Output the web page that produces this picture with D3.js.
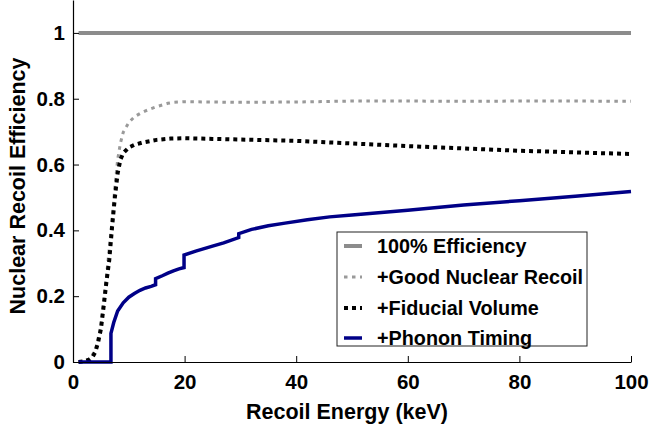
<!DOCTYPE html>
<html>
<head>
<meta charset="utf-8">
<script src="https://cdn.jsdelivr.net/npm/d3@7"></script>
<style>
  body { margin: 0; background: #fff; }
  text { font-family: "Liberation Sans", Arial, sans-serif; font-weight: bold; fill: #000; }
</style>
</head>
<body>
<div id="chart"></div>
<script>
// Dados
const xTicks = [0, 20, 40, 60, 80, 100];
const yTicks = [0, 0.2, 0.4, 0.6, 0.8, 1];

const fullE = [1, 100];
const fullV = [1, 1];

const gnrE = [1, 2, 3, 4, 5, 6, 7, 7.5, 8, 8.5, 9, 10, 11, 12, 13, 14, 15, 16, 17, 18, 20, 25, 30, 40, 50, 60, 70, 80, 90, 100];
const gnrV = [0, 0.003, 0.01, 0.035, 0.11, 0.26, 0.43, 0.53, 0.615, 0.665, 0.698, 0.728, 0.745, 0.755, 0.763, 0.77, 0.776, 0.781, 0.786, 0.789, 0.791, 0.79, 0.789, 0.79, 0.793, 0.793, 0.792, 0.793, 0.793, 0.792];

const fidE = [1, 2, 3, 3.5, 4, 4.5, 5, 5.5, 6, 6.5, 7, 7.5, 8, 8.5, 9, 10, 11, 12.5, 15, 17.5, 20, 25, 30, 40, 50, 60, 70, 80, 90, 100];
const fidV = [0, 0.002, 0.008, 0.015, 0.03, 0.06, 0.1, 0.17, 0.245, 0.31, 0.41, 0.5, 0.573, 0.615, 0.635, 0.652, 0.66, 0.667, 0.675, 0.679, 0.68, 0.678, 0.676, 0.672, 0.664, 0.656, 0.649, 0.642, 0.637, 0.632];

const phE = [1, 6.8, 6.8, 7.3, 8, 9, 10, 11, 12, 13, 14, 14.8, 14.8, 16, 17, 18, 19, 19.9, 19.9, 22, 25, 27, 29.7, 29.7, 32, 35, 38, 42, 46, 50, 60, 70, 80, 90, 100];
const phV = [0, 0, 0.087, 0.12, 0.155, 0.18, 0.197, 0.208, 0.218, 0.225, 0.23, 0.235, 0.253, 0.262, 0.27, 0.277, 0.283, 0.287, 0.325, 0.337, 0.352, 0.362, 0.378, 0.39, 0.403, 0.414, 0.422, 0.432, 0.441, 0.447, 0.461, 0.477, 0.49, 0.504, 0.518];

const seriesNames = ['100% Efficiency', '+Good Nuclear Recoil', '+Fiducial Volume', '+Phonon Timing'];

const width = 649, height = 426;
const margin = { left: 73, right: 18, top: 0, bottom: 64 };

const svg = d3.select('#chart').append('svg')
    .attr('width', width)
    .attr('height', height);

const x = d3.scaleLinear().domain([0, 100]).range([margin.left, width - margin.right]);
const y = d3.scaleLinear().domain([0, 1.1]).range([height - margin.bottom, margin.top]);

// estilos de cada série
const styles = [
    { color: '#8c8c8c', w: 4, dash: null },
    { color: '#9a9a9a', w: 3, dash: '3.5,4.5' },
    { color: '#000000', w: 4, dash: '4,4' },
    { color: '#000087', w: 3.5, dash: null }
];
const data = [
    d3.zip(fullE, fullV),
    d3.zip(gnrE, gnrV),
    d3.zip(fidE, fidV),
    d3.zip(phE, phV)
];

const line = d3.line().x(d => x(d[0])).y(d => y(d[1]));

data.forEach((d, i) => {
    svg.append('path')
        .datum(d)
        .attr('fill', 'none')
        .attr('stroke', styles[i].color)
        .attr('stroke-width', styles[i].w)
        .attr('stroke-dasharray', styles[i].dash)
        .attr('d', line);
});

// Eixos
const xAxis = svg.append('g')
    .attr('transform', `translate(0,${y(0)})`)
    .call(d3.axisBottom(x).tickValues(xTicks).tickSizeInner(-6).tickSizeOuter(0).tickPadding(12));
const yAxis = svg.append('g')
    .attr('transform', `translate(${x(0)},0)`)
    .call(d3.axisLeft(y).tickValues(yTicks).tickFormat(d => d).tickSizeInner(-6).tickSizeOuter(0).tickPadding(8));

[xAxis, yAxis].forEach(a => {
    a.select('.domain').attr('stroke', '#000').attr('stroke-width', 1.2);
    a.selectAll('.tick line').attr('stroke', '#000');
    a.selectAll('.tick text').attr('font-size', 20.5).attr('font-family', '"Liberation Sans", Arial, sans-serif');
});

svg.append('text')
    .attr('x', 347)
    .attr('y', 419)
    .attr('text-anchor', 'middle')
    .attr('font-size', 21.5)
    .text('Recoil Energy (keV)');

svg.append('text')
    .attr('transform', 'translate(25,186) rotate(-90)')
    .attr('text-anchor', 'middle')
    .attr('font-size', 21.5)
    .text('Nuclear Recoil Efficiency');

// Legenda
const leg = svg.append('g');
leg.append('rect')
    .attr('x', 337).attr('y', 232)
    .attr('width', 250).attr('height', 114)
    .attr('fill', '#fff')
    .attr('stroke', '#222')
    .attr('stroke-width', 1);

const rowY = [246, 277, 308, 338];
seriesNames.forEach((name, i) => {
    leg.append('line')
        .attr('x1', 344).attr('x2', 362)
        .attr('y1', rowY[i]).attr('y2', rowY[i])
        .attr('stroke', styles[i].color)
        .attr('stroke-width', styles[i].w)
        .attr('stroke-dasharray', styles[i].dash);
    leg.append('text')
        .attr('x', 377)
        .attr('y', rowY[i] + 7)
        .attr('font-size', 19.8)
        .text(name);
});
</script>
</body>
</html>
